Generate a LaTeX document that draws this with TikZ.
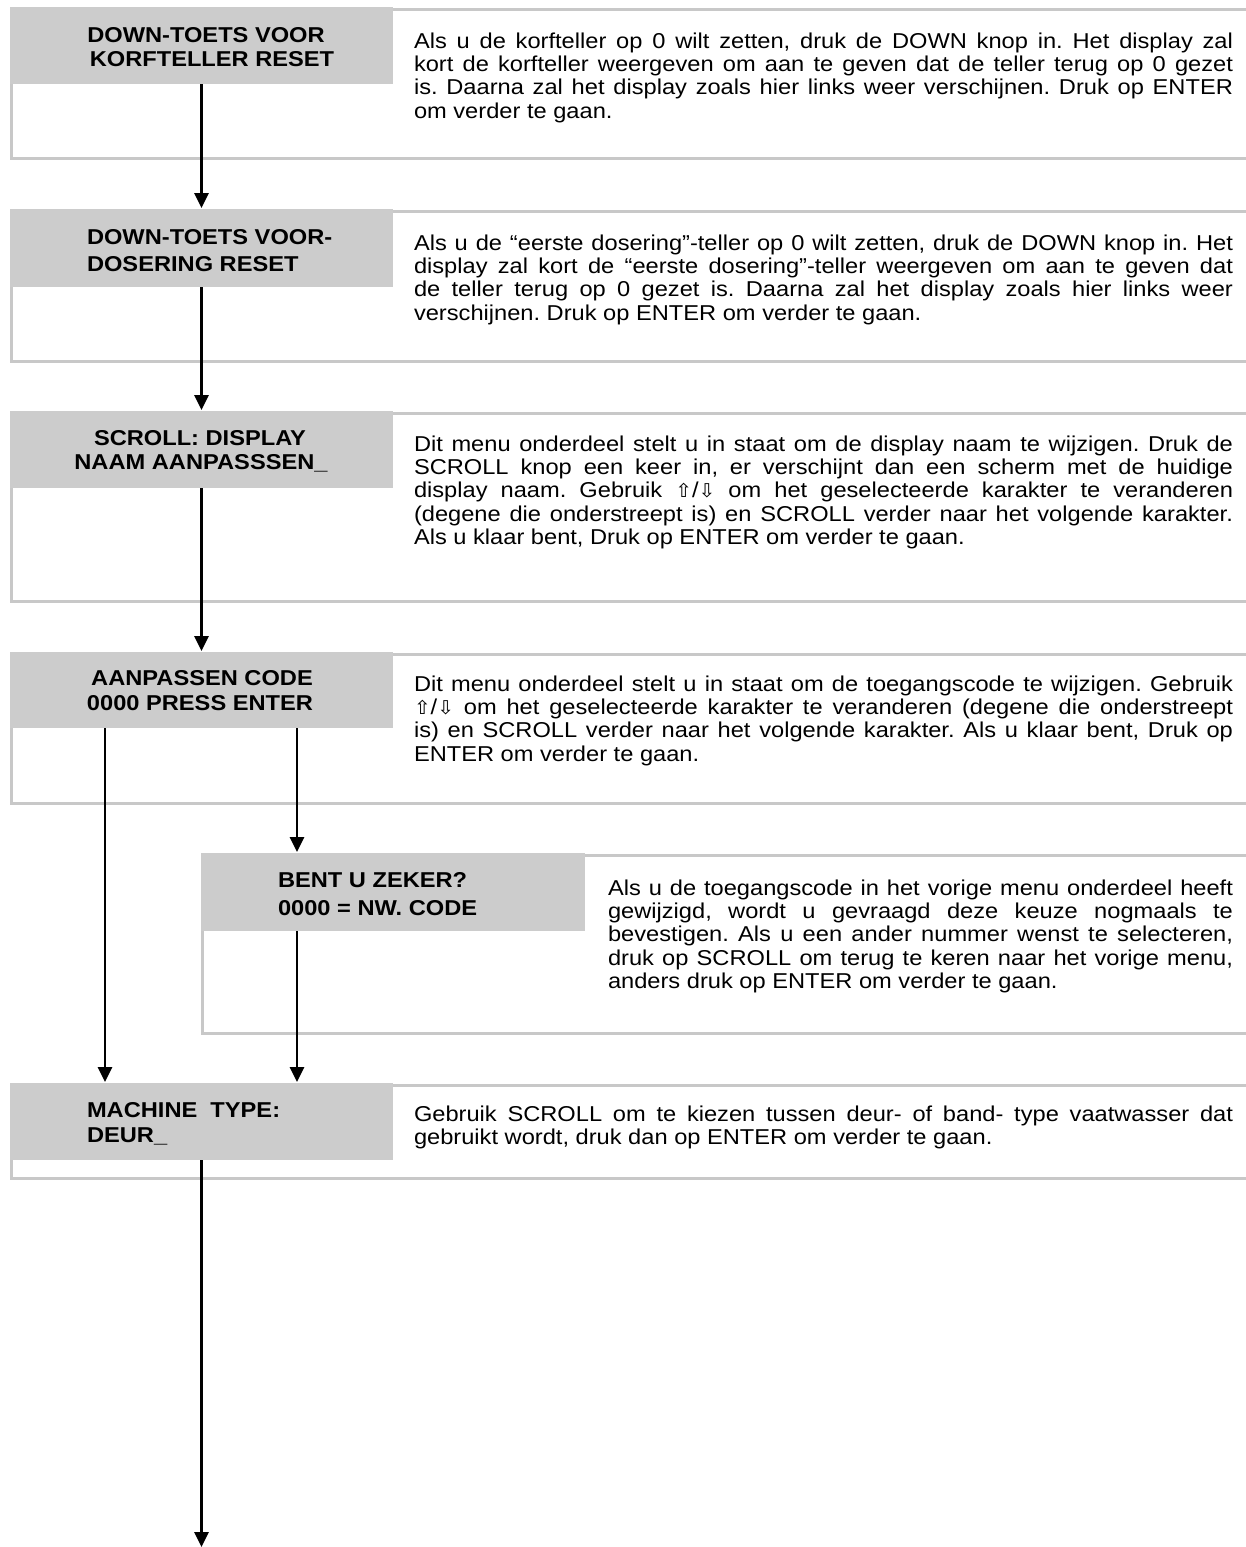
\documentclass[tikz,border=0pt]{standalone}
\usepackage{fontspec}
\setmainfont{Liberation Sans}[FakeStretch=1.1]
\newfontfamily\symfont{DejaVu Sans}[FakeStretch=1.05]
\usetikzlibrary{arrows.meta,calc}
\definecolor{boxgray}{HTML}{CCCCCC}
\definecolor{framegray}{HTML}{C8C8C8}
\frenchspacing
\newcommand\UA{{\symfont\fontsize{19}{20}\selectfont ⇧}}
\newcommand\DA{{\symfont\fontsize{19}{20}\selectfont ⇩}}
\newcommand\jline[4]{\node[txt,anchor=base west] (#1) at (#2) {\hbox to #3pt{#4}};}
\newcommand\lline[3]{\node[txt,anchor=base west] (#1) at (#2) {#3};}
\begin{document}
\begin{tikzpicture}[x=1pt,y=-1pt,
  txt/.style={inner sep=0pt,outer sep=0pt,font=\frenchspacing\fontsize{21.5}{23.4}\selectfont},
  ttl/.style={inner sep=0pt,outer sep=0pt,font=\bfseries\fontsize{21.5}{24}\selectfont},
  graybox/.style={fill=boxgray,draw=none,inner sep=0pt,outer sep=0pt,anchor=north west,minimum width=383pt},
  frame/.style={draw=framegray,line width=3pt},
  arr/.style={line width=2.7pt,-{Triangle[width=14pt,length=15pt]},shorten >=1pt}]
\useasboundingbox (0,0) rectangle (1246,1547);
\fill[white] (0,0) rectangle (1246,1547);
% frames
\draw[frame] (1252,9.5) -- (11.3,9.5) -- (11.3,158.5) -- (1252,158.5);
\draw[frame] (1252,211.5) -- (11.3,211.5) -- (11.3,361.5) -- (1252,361.5);
\draw[frame] (1252,413.5) -- (11.3,413.5) -- (11.3,601) -- (1252,601);
\draw[frame] (1252,654.5) -- (11.3,654.5) -- (11.3,803) -- (1252,803);
\draw[frame] (1252,855.5) -- (202.3,855.5) -- (202.3,1033) -- (1252,1033);
\draw[frame] (1252,1085.5) -- (11.3,1085.5) -- (11.3,1178) -- (1252,1178);
% gray boxes
\node[graybox,minimum height=77pt] (g1) at (10,7) {};
\node[graybox,minimum height=78pt] (g2) at (10,209) {};
\node[graybox,minimum height=77pt] (g3) at (10,411) {};
\node[graybox,minimum height=76pt] (g4) at (10,652) {};
\node[graybox,minimum height=78pt,minimum width=384pt] (g5) at (201,853) {};
\node[graybox,minimum height=77pt] (g6) at (10,1083) {};
% titles
\node[ttl,anchor=base] (t1a) at (206,42.3) {DOWN-TOETS VOOR};
\node[ttl,anchor=base] (t1b) at (212,66.7) {KORFTELLER RESET};
\node[ttl,anchor=base west] (t2a) at (87,244) {DOWN-TOETS VOOR-};
\node[ttl,anchor=base west] (t2b) at (87,271) {DOSERING RESET};
\node[ttl,anchor=base] (t3a) at (200,445) {SCROLL: DISPLAY};
\node[ttl,anchor=base] (t3b) at (201,469.5) {NAAM AANPASSSEN\_};
\node[ttl,anchor=base] (t4a) at (202,685) {AANPASSEN CODE};
\node[ttl,anchor=base] (t4b) at (200,710) {0000 PRESS ENTER};
\node[ttl,anchor=base west] (t5a) at (278,887) {BENT U ZEKER?};
\node[ttl,anchor=base west] (t5b) at (278,915) {0000 = NW. CODE};
\node[ttl,anchor=base west] (t6a) at (87,1117) {MACHINE\ \ TYPE:};
\node[ttl,anchor=base west] (t6b) at (87,1142) {DEUR\_};
% body 1
\jline{b1a}{414,48}{819}{Als u de korfteller op 0 wilt zetten, druk de DOWN knop in. Het display zal}
\jline{b1b}{414,71.4}{819}{kort de korfteller weergeven om aan te geven dat de teller terug op 0 gezet}
\jline{b1c}{414,94.8}{819}{is. Daarna zal het display zoals hier links weer verschijnen. Druk op ENTER}
\lline{b1d}{414,118.2}{om verder te gaan.}
% body 2
\jline{b2a}{414,250}{819}{Als u de “eerste dosering”-teller op 0 wilt zetten, druk de DOWN knop in. Het}
\jline{b2b}{414,273.4}{819}{display zal kort de “eerste dosering”-teller weergeven om aan te geven dat}
\jline{b2c}{414,296.8}{819}{de teller terug op 0 gezet is. Daarna zal het display zoals hier links weer}
\lline{b2d}{414,320.2}{verschijnen. Druk op ENTER om verder te gaan.}
% body 3
\jline{b3a}{414,451}{819}{Dit menu onderdeel stelt u in staat om de display naam te wijzigen. Druk de}
\jline{b3b}{414,474.4}{819}{SCROLL knop een keer in, er verschijnt dan een scherm met de huidige}
\jline{b3c}{414,497.8}{819}{display naam. Gebruik \UA/\DA{} om het geselecteerde karakter te veranderen}
\jline{b3d}{414,521.2}{819}{(degene die onderstreept is) en SCROLL verder naar het volgende karakter.}
\lline{b3e}{414,544.6}{Als u klaar bent, Druk op ENTER om verder te gaan.}
% body 4
\jline{b4a}{414,691}{819}{Dit menu onderdeel stelt u in staat om de toegangscode te wijzigen. Gebruik}
\jline{b4b}{414,714.4}{819}{\UA/\DA{} om het geselecteerde karakter te veranderen (degene die onderstreept}
\jline{b4c}{414,737.8}{819}{is) en SCROLL verder naar het volgende karakter. Als u klaar bent, Druk op}
\lline{b4d}{414,761.2}{ENTER om verder te gaan.}
% body 5
\jline{b5a}{608,895}{625}{Als u de toegangscode in het vorige menu onderdeel heeft}
\jline{b5b}{608,918.4}{625}{gewijzigd, wordt u gevraagd deze keuze nogmaals te}
\jline{b5c}{608,941.8}{625}{bevestigen. Als u een ander nummer wenst te selecteren,}
\jline{b5d}{608,965.2}{625}{druk op SCROLL om terug te keren naar het vorige menu,}
\lline{b5e}{608,988.6}{anders druk op ENTER om verder te gaan.}
% body 6
\jline{b6a}{414,1121}{819}{Gebruik SCROLL om te kiezen tussen deur- of band- type vaatwasser dat}
\lline{b6b}{414,1144.4}{gebruikt wordt, druk dan op ENTER om verder te gaan.}
% arrows
\coordinate (endpt) at (201.5,1547);
\draw[arr] (g1.south) -- (g2.north);
\draw[arr] (g2.south) -- (g3.north);
\draw[arr] (g3.south) -- (g4.north);
\draw[arr] ([xshift=-96.5pt]g4.south) -- ([xshift=-96.5pt]g6.north);
\draw[arr] ([xshift=95.5pt]g4.south) -- ([xshift=-96pt]g5.north);
\draw[arr] ([xshift=-96pt]g5.south) -- ([xshift=95.5pt]g6.north);
\draw[arr,shorten >=0pt] (g6.south) -- (endpt);
\end{tikzpicture}
\end{document}
